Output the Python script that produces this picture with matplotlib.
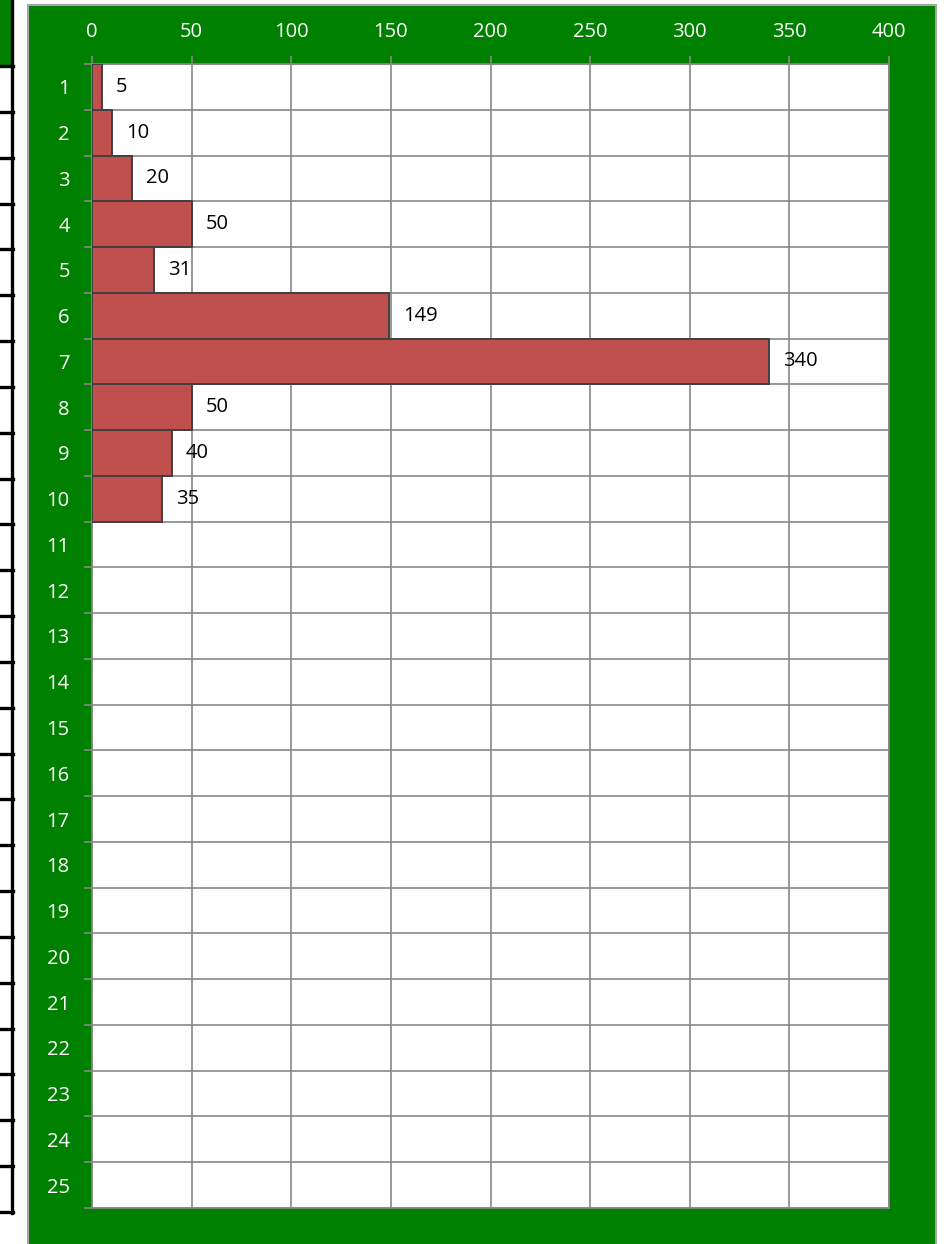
import matplotlib
matplotlib.use("Agg")
import matplotlib.pyplot as plt
from matplotlib.patches import Rectangle
from matplotlib.lines import Line2D
from matplotlib.ticker import FixedLocator, NullFormatter

categories = list(range(1, 26))
bar_rows = [1, 2, 3, 4, 5, 6, 7, 8, 9, 10]
values = [5, 10, 20, 50, 31, 149, 340, 50, 40, 35]
x_ticks = [0, 50, 100, 150, 200, 250, 300, 350, 400]

W, H = 944, 1244
DPI = 100
fig = plt.figure(figsize=(W / DPI, H / DPI), dpi=DPI)
fig.patch.set_facecolor("white")

def fx(px):
    return px / W

def fy(py):
    return 1 - py / H

GREEN = "#008000"
GRID = "#888888"

# spreadsheet-like strip on the left
fig.patches.append(Rectangle((fx(0), fy(66)), fx(11), 66 / H, transform=fig.transFigure,
                             facecolor=GREEN, edgecolor="none", zorder=-2))
fig.lines.append(Line2D([fx(12), fx(12)], [fy(0), fy(1213)], transform=fig.transFigure,
                        color="black", lw=2.4, zorder=-1))
row_h = (1212 - 66) / 25
for k in range(26):
    yy = 66 + k * row_h
    fig.lines.append(Line2D([fx(0), fx(13)], [fy(yy), fy(yy)], transform=fig.transFigure,
                            color="black", lw=2.4, zorder=-1))

# chart frame
fig.patches.append(Rectangle((fx(28), fy(1250)), fx(936 - 28), (1250 - 5) / H,
                             transform=fig.transFigure, facecolor=GREEN,
                             edgecolor="#a6a6a6", lw=1.5, zorder=-2))

ax = fig.add_axes([fx(92), fy(1208), fx(889 - 92), (1208 - 64) / H])
ax.set_zorder(2)
ax.set_facecolor("white")

ax.barh(bar_rows, values, height=1.0, color="#C0504D", edgecolor="#404040",
        linewidth=1.4, zorder=3)

for r, v in zip(bar_rows, values):
    ax.annotate(str(v), xy=(v, r), xytext=(10, 0), textcoords="offset points",
                ha="left", va="center", fontsize=14.5, family="Open Sans",
                color="black", zorder=4)

ax.set_xlim(0, 400)
ax.set_ylim(25.5, 0.5)

ax.xaxis.tick_top()
ax.set_xticks(x_ticks)
ax.set_xticklabels([str(t) for t in x_ticks])
ax.tick_params(axis="x", which="major", direction="out", length=6, width=1.2,
               color=GRID, labelcolor="white", labelsize=14.5, pad=10)
for lbl in ax.get_xticklabels():
    lbl.set_family("Open Sans")

ax.yaxis.set_major_locator(FixedLocator([i + 0.5 for i in range(0, 26)]))
ax.yaxis.set_major_formatter(NullFormatter())
ax.yaxis.set_minor_locator(FixedLocator(categories))
ax.set_yticklabels([str(c) for c in categories], minor=True)
ax.tick_params(axis="y", which="major", direction="out", length=6, width=1.2,
               color=GRID)
ax.tick_params(axis="y", which="minor", length=0, labelcolor="white",
               labelsize=14.5, pad=16)
for lbl in ax.get_yticklabels(minor=True):
    lbl.set_family("Open Sans")

ax.grid(True, which="major", color=GRID, linewidth=1.2, zorder=1)
ax.set_axisbelow(True)
for s in ax.spines.values():
    s.set_color(GRID)
    s.set_linewidth(1.2)

fig.savefig("out.png", dpi=DPI, facecolor=fig.get_facecolor())
